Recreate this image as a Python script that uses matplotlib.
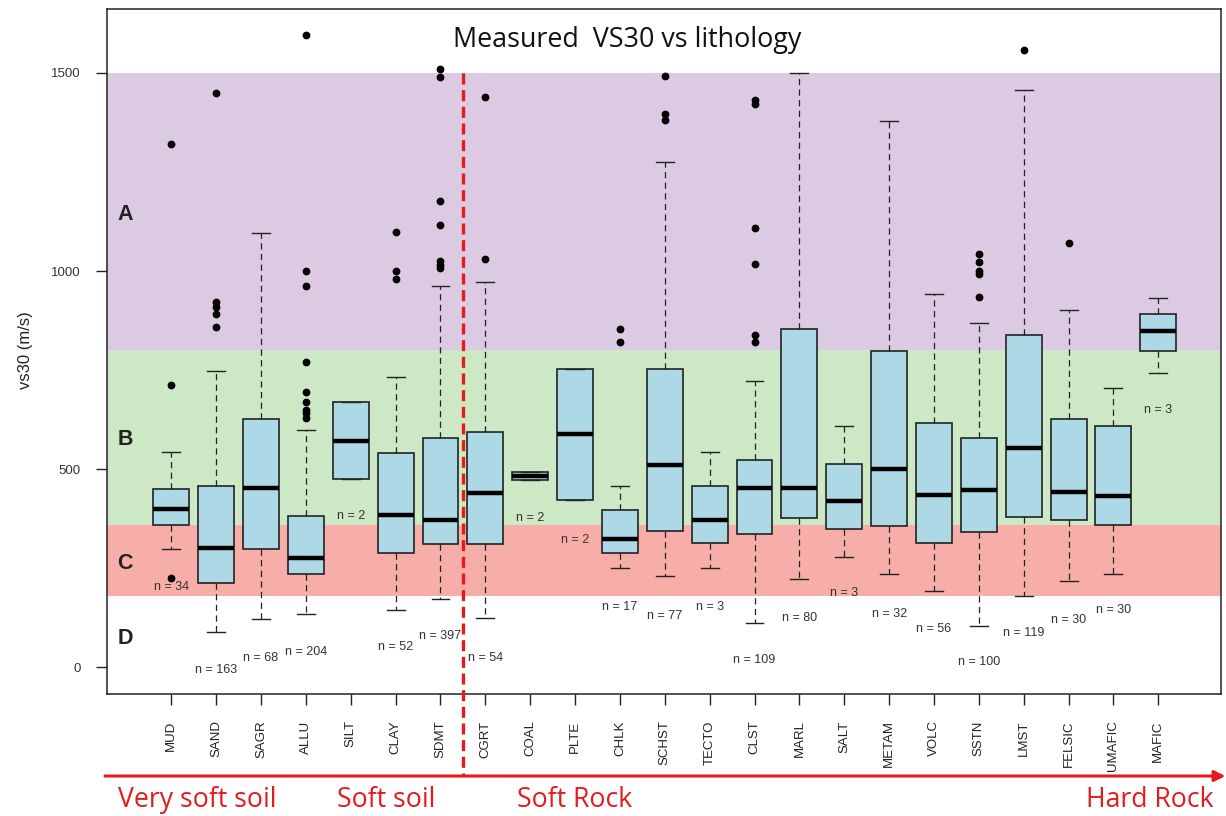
import matplotlib
matplotlib.use("Agg")
import matplotlib.pyplot as plt

# Lithology classes and their measured VS30 distributions (m/s)
lithology = ["MUD", "SAND", "SAGR", "ALLU", "SILT", "CLAY", "SDMT", "CGRT", "COAL",
             "PLTE", "CHLK", "SCHST", "TECTO", "CLST", "MARL", "SALT", "METAM",
             "VOLC", "SSTN", "LMST", "FELSIC", "UMAFIC", "MAFIC"]
q1 = [359, 214, 298, 235, 475, 288, 311, 311, 473, 422, 288, 344, 314, 337, 376,
      350, 357, 314, 343, 379, 372, 359, 798]
median = [399, 302, 452, 276, 572, 385, 373, 440, 483, 588, 324, 510, 373, 452, 452,
          421, 500, 436, 447, 553, 443, 433, 849]
q3 = [449, 459, 627, 382, 670, 540, 578, 594, 494, 753, 397, 754, 459, 523, 855,
      514, 798, 616, 578, 838, 627, 610, 893]
whisker_low = [298, 90, 122, 135, 475, 144, 173, 125, 473, 422, 250, 231, 250, 112, 224,
               279, 235, 193, 105, 180, 218, 237, 743]
whisker_high = [543, 749, 1097, 600, 670, 733, 962, 973, 494, 753, 458, 1276, 543, 724,
                1499, 608, 1379, 942, 868, 1457, 903, 704, 933]
outliers = [
    [1320, 713, 226],
    [1450, 922, 910, 893, 858],
    [],
    [1596, 1000, 963, 770, 694, 670, 650, 642, 630],
    [],
    [1099, 1000, 981],
    [1511, 1490, 1177, 1116, 1025, 1015, 1007],
    [1440, 1030],
    [],
    [],
    [853, 822],
    [1492, 1396, 1381],
    [],
    [1432, 1422, 1108, 1019, 840, 820],
    [],
    [],
    [],
    [],
    [1042, 1022, 1000, 992, 935],
    [1559],
    [1071],
    [],
    [],
]
n_obs = [34, 163, 68, 204, 2, 52, 397, 54, 2, 2, 17, 77, 3, 109, 80, 3, 32, 56, 100,
         119, 30, 30, 3]

# Height (m/s) at which each sample-size note is written
n_label_y = [203, -7, 23, 39, 383, 52, 80, 25, 376, 321, 153, 130, 153, 18, 125, 187,
             134, 96, 13, 87, 119, 145, 650]

# Site classes (lower, upper bound in m/s)
site_classes = ["A", "B", "C", "D"]
class_bounds = [(800, 1500), (360, 800), (180, 360), (None, 180)]
class_label_y = [1143, 574, 262, 73]
class_colors = ["#DCCAE2", "#CCE8C4", "#F8AEA8", None]

# Material groups along the bottom
groups = ["Very soft soil", "Soft soil", "Soft Rock", "Hard Rock"]
group_x = [0.1607, 0.315, 0.469, 0.938]

RED = "#E41A1C"
TXT = "#333333"

fig = plt.figure(figsize=(12.26, 8.16), dpi=100)
ax = fig.add_axes([0.0875, 0.1495, 0.9085, 0.8398])

ax.set_xlim(-0.427, 24.40)
ax.set_ylim(-67, 1662)

for (lo, hi), col in zip(class_bounds, class_colors):
    if col is not None:
        ax.axhspan(lo, hi, color=col, lw=0, zorder=0)

positions = list(range(1, len(lithology) + 1))
stats = []
for i, name in enumerate(lithology):
    stats.append(dict(label=name, q1=q1[i], med=median[i], q3=q3[i],
                      whislo=whisker_low[i], whishi=whisker_high[i],
                      fliers=outliers[i]))

ax.bxp(stats, positions=positions, widths=0.8, patch_artist=True,
       manage_ticks=False,
       boxprops=dict(facecolor="#ADD8E6", edgecolor="#222222", linewidth=1.2),
       whiskerprops=dict(color="#222222", linewidth=0.9, linestyle=(0, (5, 3.5))),
       capprops=dict(color="#222222", linewidth=1.0),
       medianprops=dict(color="black", linewidth=3.2),
       flierprops=dict(marker="o", markerfacecolor="black", markeredgecolor="black",
                       markersize=4.6, linestyle="none"))

for x, n, y in zip(positions, n_obs, n_label_y):
    ax.text(x, y, f"n = {n}", ha="center", va="center", fontsize=9, color=TXT,
            family="Liberation Sans", zorder=5)

for lab, y in zip(site_classes, class_label_y):
    ax.text(-0.2, y, lab, ha="left", va="center", fontsize=15.5, fontweight="bold",
            color="#222222", family="Liberation Sans")

ax.set_xticks(positions)
ax.set_xticklabels(lithology, rotation=90, fontsize=9.5, family="Liberation Sans",
                   color="#222222")
ax.set_yticks([0, 500, 1000, 1500])
ax.set_yticklabels(["0", "500", "1000", "1500"], fontsize=9.5,
                   family="Liberation Sans", color=TXT)
ax.tick_params(axis="both", length=8, width=1, direction="out", pad=11,
               color="#222222")
for sp in ax.spines.values():
    sp.set_color("#222222")
    sp.set_linewidth(1.1)

# Soil / rock boundary: dashed line down to the group arrow
arrow_y = 0.049
y_bottom = ax.transData.inverted().transform(
    fig.transFigure.transform((0, arrow_y)))[1]
ax.plot([7.5, 7.5], [1500, y_bottom], color=RED, lw=2.4,
        linestyle=(0, (3.3, 1.7)), clip_on=False, zorder=6)

ax.annotate("", xy=(0.9995, arrow_y), xytext=(0.0856, arrow_y),
            xycoords="figure fraction", textcoords="figure fraction",
            arrowprops=dict(arrowstyle="-|>", color=RED, lw=2.2,
                            mutation_scale=16, shrinkA=0, shrinkB=0))

for g, gx in zip(groups, group_x):
    fig.text(gx, 0.0196, g, ha="center", va="center", fontsize=19.2, color=RED,
             family="Open Sans")

fig.text(0.5114, 0.951, "Measured  VS30 vs lithology", ha="center", va="center",
         fontsize=19.4, color="#111111", family="Open Sans")
fig.text(0.0204, 0.571, "vs30 (m/s)", rotation=90, ha="center", va="center",
         fontsize=12, color="#222222", family="Liberation Sans")

fig.savefig("out.png", dpi=100)
